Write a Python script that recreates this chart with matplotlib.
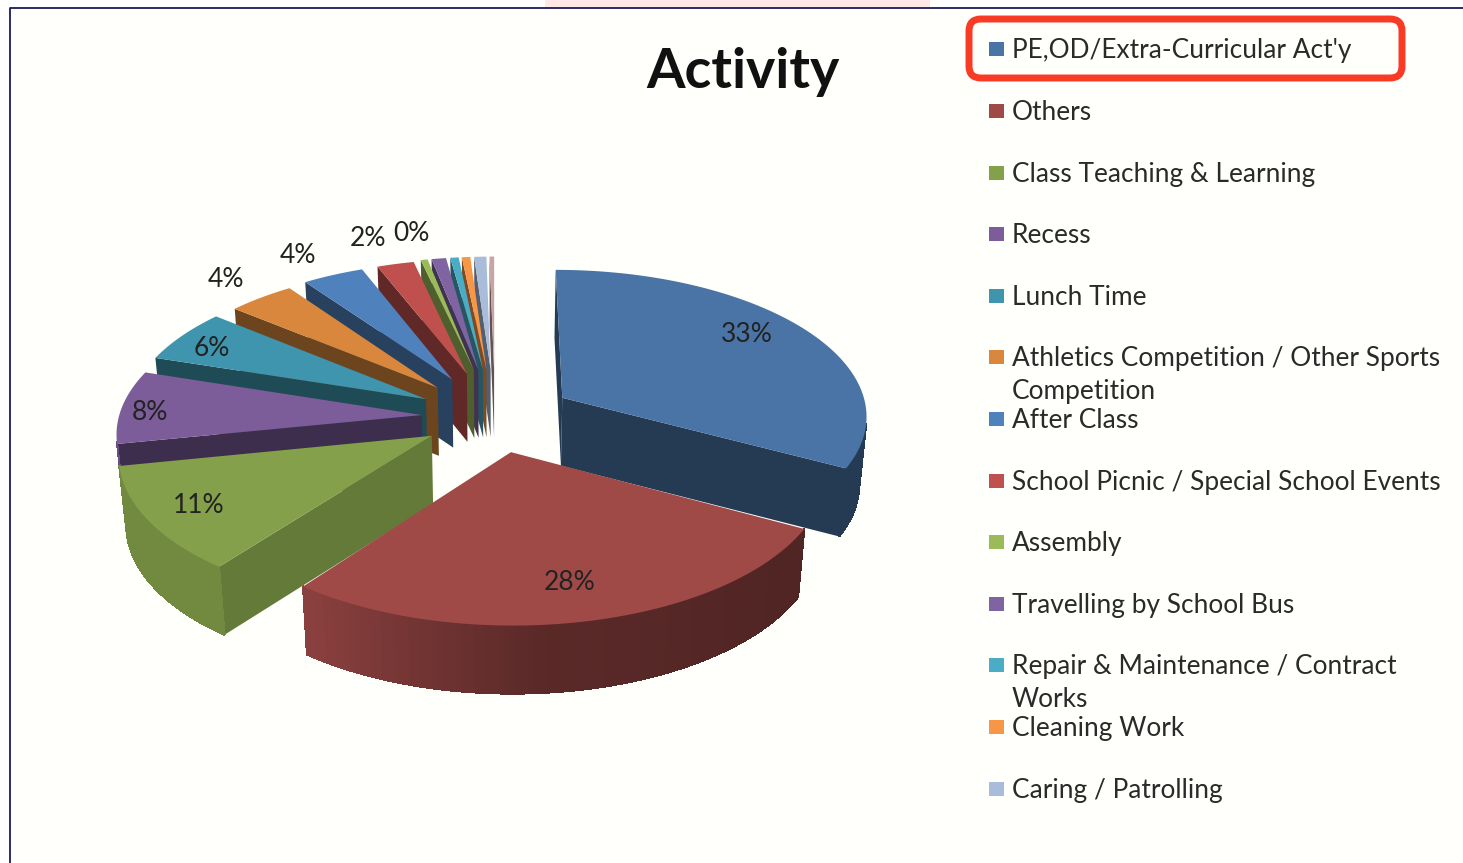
import numpy as np
import matplotlib
matplotlib.use("Agg")
import matplotlib.pyplot as plt
from matplotlib.patches import FancyBboxPatch, Polygon, Rectangle

plt.rcParams['font.family'] = ['Lato', 'DejaVu Sans']

categories = ["PE,OD/Extra-Curricular Act'y", "Others", "Class Teaching & Learning", "Recess",
              "Lunch Time", "Athletics Competition / Other Sports\nCompetition", "After Class",
              "School Picnic / Special School Events", "Assembly", "Travelling by School Bus",
              "Repair & Maintenance / Contract\nWorks", "Cleaning Work", "Caring / Patrolling"]
# last value is the sliver whose legend entry is cut off in the original
values = [32.9, 27.6, 11.5, 8.1, 6.0, 4.2, 3.9, 2.4, 0.45, 0.95, 0.55, 0.55, 0.8, 0.3]
percent_labels = ["33%", "28%", "11%", "8%", "6%", "4%", "4%", "2%", "0%"]

colors = ["#4a74a5", "#a04a48", "#84a04a", "#7c5c99", "#3e95ad", "#d8873c", "#4f81bd",
          "#c0504d", "#9bbb59", "#8064a2", "#4bacc6", "#f79646", "#a9bcd9", "#c7a5a5"]
legend_colors = colors[:13]

# style / layout
label_xy = [(747, 334), (570, 582), (199, 505), (150, 412), (212, 348),
            (226, 279), (298, 255), (368, 238), (411, 233)]
legend_y = [49, 111, 173, 234, 296, 357, 419, 481, 542, 604, 665, 727, 789]
side_shade = [0.5, 0.5, 0.76, 0.5, 0.5, 0.5, 0.5, 0.5, 0.5, 0.5, 0.5, 0.5, 0.5, 0.5]
explode = [0.26, 0.24, 0.24, 0.24, 0.26, 0.28, 0.3, 0.32, 0.34, 0.34, 0.34, 0.34, 0.34, 0.34]
radius = [1, 1, 1, 0.99, 0.98, 0.95, 0.94, 0.92, 0.91, 0.91, 0.91, 0.91, 0.91, 0.91]
CX, CY = 495, 417
RX, RY = 306, 146
K = 0.11
DEPTH = 68
BOTTOM_SHRINK = 0.98


def project(x, y):
    w = 1 + K * y
    return CX + RX * x / w, CY - RY * y / w


def lower(p):
    # same point on the underside of the slab, pulled slightly towards the middle
    return CX + (p[0] - CX) * BOTTOM_SHRINK, p[1] + DEPTH


def shade(color, f):
    return tuple(c * f for c in matplotlib.colors.to_rgb(color))


def signed_area(pts):
    pts = np.array(pts)
    x, y = pts[:, 0], pts[:, 1]
    return 0.5 * np.sum(x * np.roll(y, -1) - np.roll(x, -1) * y)


fig = plt.figure(figsize=(14.63, 8.63), dpi=100, facecolor="white")
ax = fig.add_axes([0, 0, 1, 1])
ax.set_xlim(0, 1463)
ax.set_ylim(863, 0)
ax.axis("off")

# page behind the chart
ax.add_patch(Rectangle((545, 0), 385, 8, color="#ffe9e6", lw=0))
ax.add_patch(Rectangle((10, 8), 1453, 855, facecolor="#fffffc", edgecolor="none"))
ax.plot([10, 10, 1463], [863, 8, 8], color="#1a1a60", lw=1.3)

edges = 360 * np.concatenate([[0], np.cumsum(values)]) / np.sum(values)
mids = np.radians((edges[:-1] + edges[1:]) / 2)
order = np.argsort(-np.cos(mids))

z = 2
for i in order:
    t0, t1 = np.radians(edges[i]), np.radians(edges[i + 1])
    ox, oy = explode[i] * np.sin(mids[i]), explode[i] * np.cos(mids[i])
    angles = np.linspace(t0, t1, max(3, int(edges[i + 1] - edges[i]) + 2))
    arc = [project(ox + radius[i] * np.sin(a), oy + radius[i] * np.cos(a)) for a in angles]
    apex = project(ox, oy)

    # radial faces, culled by winding
    for corner, sign in ((arc[0], -1), (arc[-1], 1)):
        face = [apex, corner, lower(corner), lower(apex)]
        if signed_area(face) * sign > 0:
            ax.add_patch(Polygon(face, closed=True, facecolor=shade(colors[i], side_shade[i]),
                                 edgecolor="none", zorder=z))
            z += 1

    # curved outer wall, one quad per step so the shading can change along it
    for j in range(len(arc) - 1):
        p, q = arc[j], arc[j + 1]
        face = [p, q, lower(q), lower(p)]
        if signed_area(face) < 0:
            f = np.interp(np.degrees(angles[j]), [90, 125, 175, 215, 260], [0.5, 0.5, 0.56, 0.86, 0.86])
            col = shade(colors[i], f)
            ax.add_patch(Polygon(face, closed=True, facecolor=col, edgecolor=col, lw=0.8,
                                 antialiased=False, zorder=z))
    z += 1

    ax.add_patch(Polygon([apex] + arc, closed=True, facecolor=colors[i], edgecolor="none", zorder=z))
    z += 1

for txt, (x, y) in zip(percent_labels, label_xy):
    ax.text(x, y, txt, fontsize=19, color="#222222", ha="center", va="center", zorder=z)

ax.text(743, 72, "Activity", fontsize=40, fontweight="bold", color="#111111",
        ha="center", va="center", zorder=z)

for name, col, y in zip(categories, legend_colors, legend_y):
    ax.add_patch(Rectangle((989, y - 7), 15, 14, facecolor=col, edgecolor="none", zorder=z))
    ax.text(1012, y - 11, name, fontsize=18.9, color="#2a2a2a", ha="left", va="top",
            linespacing=1.42, zorder=z)

ax.add_patch(FancyBboxPatch((979, 29), 413, 39, boxstyle="round,pad=10,rounding_size=12",
                            facecolor="none", edgecolor="#f93a24", lw=5, zorder=z + 1))

fig.savefig("out.png", dpi=100)
